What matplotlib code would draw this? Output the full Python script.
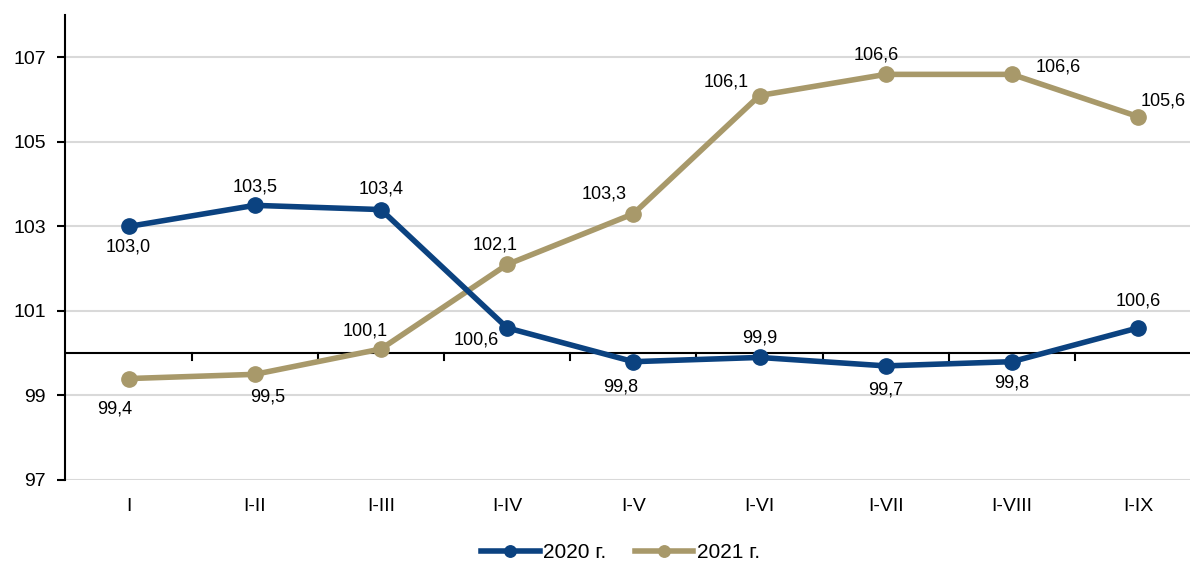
import matplotlib.pyplot as plt

plt.rcParams['font.family'] = ['Liberation Sans', 'DejaVu Sans']

periods = ['I', 'I-II', 'I-III', 'I-IV', 'I-V', 'I-VI', 'I-VII', 'I-VIII', 'I-IX']
y2020 = [103.0, 103.5, 103.4, 100.6, 99.8, 99.9, 99.7, 99.8, 100.6]
y2021 = [99.4, 99.5, 100.1, 102.1, 103.3, 106.1, 106.6, 106.6, 105.6]

# label offsets in points (dx, dy)
off2020 = [(0, -15), (0, 13), (0, 15), (-22, -9), (-9, -18), (0, 14), (0, -17), (0, -15), (0, 19)]
off2021 = [(-10, -22), (9, -16), (-11, 13), (-9, 14), (-21, 14), (-24, 9.5), (-7, 14), (33, 5), (18, 11)]

c2020 = '#0B4280'
c2021 = '#A8996A'

fig = plt.figure(figsize=(11.9, 5.64), dpi=100)
ax = fig.add_axes([0.055, 0.149, 0.946, 0.824])

x = range(len(periods))
ax.plot(x, y2020, color=c2020, lw=4.0, marker='o', ms=11, label='2020 г.', zorder=4)
ax.plot(x, y2021, color=c2021, lw=4.0, marker='o', ms=11, label='2021 г.', zorder=3)

for i, v in enumerate(y2020):
    ax.annotate(f'{v:.1f}'.replace('.', ','), (i, v), xytext=off2020[i], textcoords='offset points',
                ha='center', va='center', fontsize=13)
for i, v in enumerate(y2021):
    ax.annotate(f'{v:.1f}'.replace('.', ','), (i, v), xytext=off2021[i], textcoords='offset points',
                ha='center', va='center', fontsize=13)

# horizontal base line at 100 with small ticks between categories
ax.axhline(100, color='black', lw=1.5, zorder=2)
for b in range(1, len(periods)):
    ax.plot([b - 0.5, b - 0.5], [100, 99.83], color='black', lw=1.5, zorder=2)

ax.set_xlim(-0.5, 8.42)
ax.set_ylim(97, 108)
ax.set_yticks([97, 99, 101, 103, 105, 107])
ax.set_xticks(list(x))
ax.set_xticklabels(periods)
ax.tick_params(axis='y', labelsize=14, length=6, width=1.5, direction='out', pad=8)
ax.tick_params(axis='x', labelsize=14, length=0, pad=13)
ax.yaxis.grid(color='#D9D9D9', lw=1.5)
ax.set_axisbelow(True)

for s in ['top', 'right', 'bottom']:
    ax.spines[s].set_visible(False)
ax.spines['left'].set_linewidth(1.5)

ax.legend(loc='center', bbox_to_anchor=(0.493, -0.157), ncol=2, frameon=False,
          fontsize=15, handlelength=2.8, handletextpad=0.15, columnspacing=1.4, markerscale=0.75)

plt.savefig('out.png', dpi=100)
